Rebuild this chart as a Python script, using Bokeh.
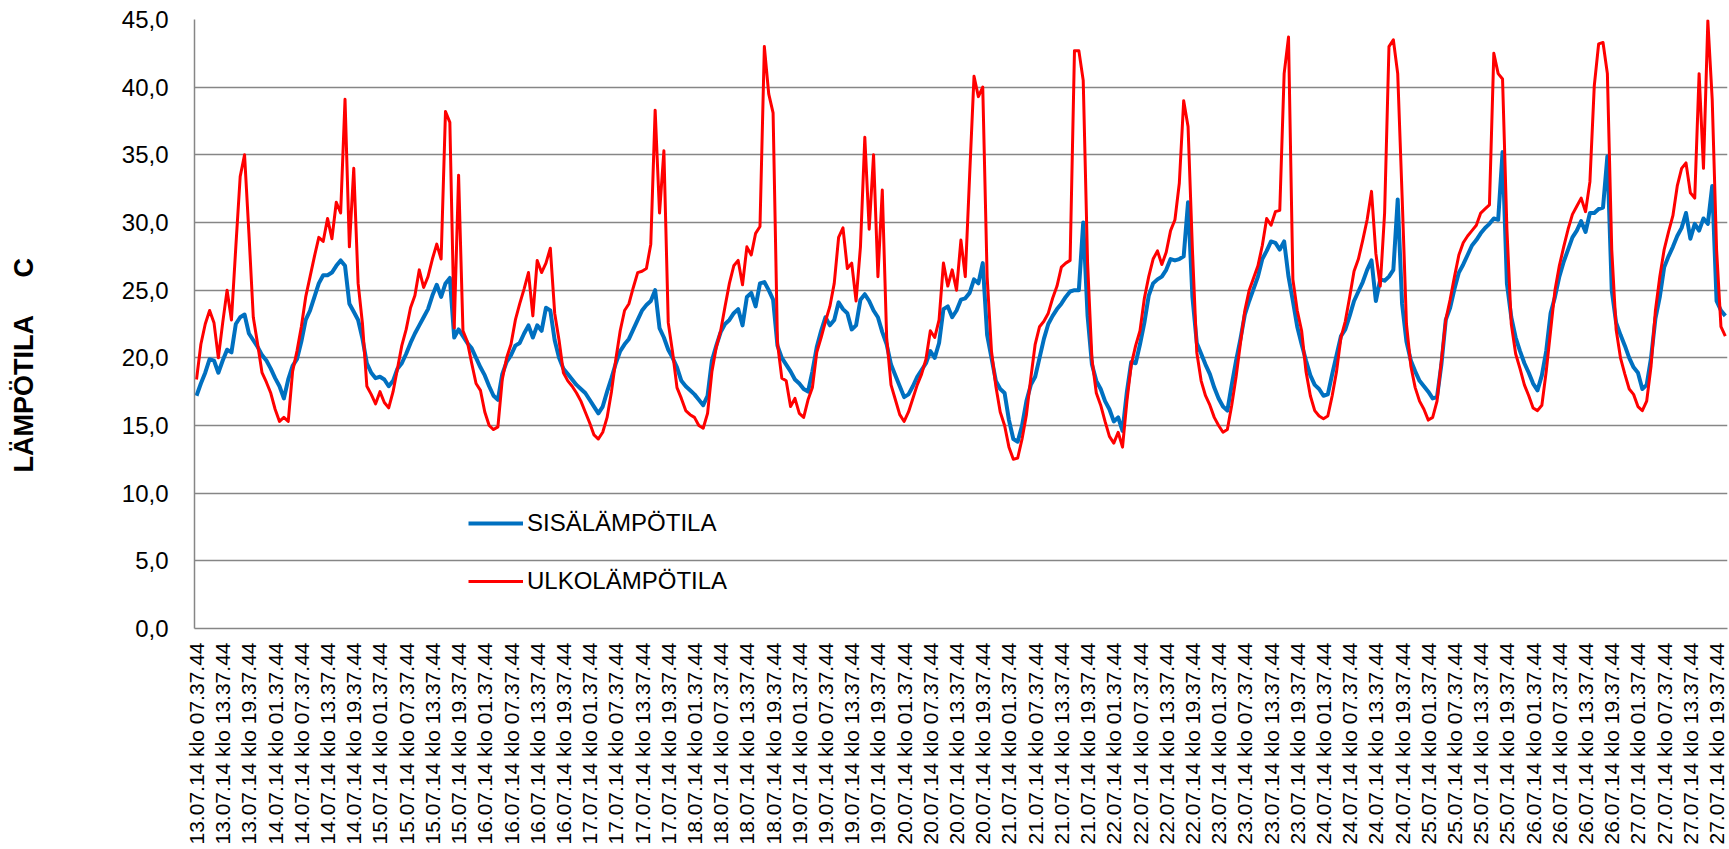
import math
from bokeh.plotting import figure
from bokeh.models import Range1d, FixedTicker, Legend, LegendItem
from bokeh.embed import file_html
from bokeh.resources import INLINE

# hourly readings, hour 0 = 13.07.14 klo 07.37.44
sisa = [
    17.2, 18.1, 18.9, 19.9, 19.8, 18.9, 19.8, 20.6, 20.4, 22.5,
    23.0, 23.2, 21.8, 21.3, 20.8, 20.2, 19.8, 19.2, 18.5, 17.9,
    17.0, 18.4, 19.4, 19.9, 21.2, 22.8, 23.5, 24.5, 25.5, 26.1,
    26.1, 26.3, 26.8, 27.2, 26.8, 24.0, 23.4, 22.8, 21.4, 19.6,
    18.9, 18.5, 18.6, 18.4, 17.9, 18.3, 19.2, 19.6, 20.3, 21.1,
    21.8, 22.4, 23.0, 23.6, 24.6, 25.4, 24.5, 25.5, 25.9, 21.5,
    22.1, 21.6, 21.1, 20.7, 20.0, 19.3, 18.7, 17.9, 17.2, 16.9,
    18.8, 19.7, 20.2, 20.9, 21.1, 21.8, 22.4, 21.5, 22.4, 22.0,
    23.7, 23.5, 21.3, 20.0, 19.2, 18.8, 18.4, 18.0, 17.7, 17.4,
    16.9, 16.4, 15.9, 16.4, 17.5, 18.5, 19.6, 20.5, 21.0, 21.4,
    22.1, 22.8, 23.5, 23.9, 24.2, 25.0, 22.2, 21.5, 20.6, 20.0,
    19.3, 18.3, 17.9, 17.6, 17.3, 16.9, 16.5, 17.2, 19.8, 20.9,
    21.9, 22.5, 22.8, 23.3, 23.6, 22.4, 24.5, 24.8, 23.8, 25.5,
    25.6, 25.0, 24.3, 20.9, 20.0, 19.5, 19.0, 18.4, 18.1, 17.7,
    17.5, 19.0, 20.8, 22.0, 23.0, 22.4, 22.8, 24.1, 23.6, 23.3,
    22.1, 22.4, 24.3, 24.7, 24.2, 23.5, 23.0, 21.9, 21.0, 19.5,
    18.7, 17.9, 17.1, 17.3, 17.9, 18.6, 19.1, 19.6, 20.5, 20.0,
    21.1, 23.6, 23.8, 23.0, 23.5, 24.3, 24.4, 24.8, 25.8, 25.5,
    27.0, 21.7, 20.0, 18.3, 17.7, 17.4, 15.4, 14.0, 13.8, 15.0,
    16.8, 18.0, 18.6, 20.0, 21.4, 22.5, 23.1, 23.6, 24.0, 24.5,
    24.9, 25.0, 25.0, 30.0, 23.1, 19.5, 18.3, 17.7, 16.8, 16.2,
    15.3, 15.6, 14.6, 17.5, 19.7, 19.6, 21.0, 22.6, 24.6, 25.5,
    25.8, 26.0, 26.5, 27.3, 27.2, 27.3, 27.5, 31.5, 24.5, 21.1,
    20.3, 19.5, 18.8, 17.8, 17.0, 16.4, 16.1, 18.0, 19.8, 21.4,
    23.2, 24.2, 25.1, 26.0, 27.3, 27.9, 28.6, 28.5, 28.0, 28.6,
    26.0, 24.2, 22.3, 21.0, 19.8, 18.7, 18.0, 17.7, 17.2, 17.3,
    18.8, 20.2, 21.6, 22.1, 23.1, 24.2, 24.9, 25.6, 26.5, 27.2,
    24.2, 25.8, 25.7, 26.0, 26.5, 31.7, 24.0, 21.2, 19.8, 19.0,
    18.3, 17.9, 17.5, 17.0, 17.1, 19.5, 22.8, 23.7, 25.1, 26.3,
    26.9, 27.6, 28.3, 28.7, 29.2, 29.6, 29.9, 30.3, 30.2, 35.2,
    25.5, 23.0, 21.5, 20.5, 19.6, 18.9, 18.1, 17.6, 18.7, 20.5,
    23.3, 24.5, 26.0, 27.1, 28.0, 28.9, 29.4, 30.1, 29.3, 30.7,
    30.7, 31.0, 31.1, 34.9, 25.0, 22.6, 21.7, 20.9, 20.0, 19.3,
    18.9, 17.7, 18.0, 20.0, 22.9, 24.5, 26.7, 27.5, 28.2, 29.0,
    29.6, 30.7, 28.8, 29.9, 29.4, 30.3, 29.9, 32.7, 24.2, 23.5,
    23.1,
]

ulko = [
    18.4, 21.0, 22.5, 23.5, 22.6, 20.0, 22.6, 25.0, 22.8, 28.2,
    33.4, 35.0, 29.2, 23.0, 21.0, 18.9, 18.2, 17.4, 16.2, 15.3,
    15.6, 15.3, 19.0, 20.5, 22.3, 24.5, 26.0, 27.5, 28.9, 28.6,
    30.3, 28.8, 31.5, 30.7, 39.1, 28.2, 34.0, 25.5, 22.5, 17.9,
    17.3, 16.6, 17.5, 16.7, 16.3, 17.5, 19.2, 20.9, 22.1, 23.7,
    24.6, 26.5, 25.2, 26.0, 27.3, 28.4, 27.3, 38.2, 37.4, 22.2,
    33.5, 22.0, 21.2, 19.6, 18.1, 17.6, 16.0, 15.0, 14.7, 14.9,
    18.4, 20.0, 21.0, 22.8, 24.0, 25.1, 26.3, 23.1, 27.2, 26.3,
    27.0, 28.1, 23.3, 21.3, 18.9, 18.3, 17.9, 17.4, 16.8, 16.0,
    15.2, 14.3, 14.0, 14.5, 15.6, 17.5, 19.9, 22.0, 23.5, 24.0,
    25.2, 26.3, 26.4, 26.6, 28.4, 38.3, 30.7, 35.3, 22.6, 20.4,
    17.8, 17.0, 16.1, 15.8, 15.6, 15.0, 14.8, 15.9, 19.0, 20.8,
    22.0, 23.8, 25.5, 26.8, 27.2, 25.4, 28.2, 27.6, 29.2, 29.7,
    43.0, 39.5, 38.1, 21.1, 18.5, 18.3, 16.4, 17.0, 15.9, 15.6,
    16.9, 17.8, 20.4, 21.5, 22.7, 23.8, 25.5, 28.9, 29.6, 26.6,
    27.0, 24.2, 28.2, 36.3, 29.5, 35.0, 26.0, 32.4, 21.5, 18.0,
    16.9, 15.8, 15.3, 16.0, 17.0, 18.0, 18.8, 19.9, 22.0, 21.5,
    22.8, 27.0, 25.3, 26.5, 25.0, 28.7, 26.0, 33.5, 40.8, 39.3,
    40.0, 26.0, 20.5, 17.9, 16.0, 15.0, 13.4, 12.5, 12.6, 14.0,
    15.8, 18.5, 21.0, 22.3, 22.7, 23.3, 24.4, 25.3, 26.7, 27.0,
    27.2, 42.7, 42.7, 40.5, 27.0, 19.9, 17.4, 16.5, 15.3, 14.2,
    13.7, 14.5, 13.4, 16.8, 19.5, 20.9, 22.0, 24.4, 26.0, 27.3,
    27.9, 26.9, 27.8, 29.4, 30.2, 32.9, 39.0, 37.1, 28.0, 20.4,
    18.3, 17.2, 16.5, 15.6, 15.0, 14.5, 14.7, 16.5, 18.6, 21.1,
    23.5, 25.0, 25.9, 26.8, 28.3, 30.3, 29.8, 30.8, 30.9, 41.0,
    43.7, 25.8, 23.5, 22.0, 19.0, 17.2, 16.1, 15.7, 15.5, 15.7,
    17.2, 19.0, 21.5, 22.7, 24.5, 26.4, 27.3, 28.7, 30.2, 32.3,
    27.7, 25.3, 30.7, 43.0, 43.5, 41.0, 32.0, 22.5, 19.4, 17.8,
    16.8, 16.2, 15.4, 15.6, 16.8, 19.8, 22.8, 24.3, 26.0, 27.6,
    28.5, 29.0, 29.4, 29.8, 30.7, 31.0, 31.3, 42.5, 41.0, 40.6,
    29.5, 22.5, 20.3, 19.2, 18.0, 17.2, 16.3, 16.1, 16.5, 19.0,
    22.0, 25.0, 26.8, 28.2, 29.5, 30.6, 31.2, 31.8, 30.8, 33.0,
    40.1, 43.2, 43.3, 41.0, 28.0, 22.1, 20.0, 18.8, 17.7, 17.3,
    16.4, 16.1, 16.8, 19.4, 23.5, 26.0, 28.0, 29.3, 30.5, 32.7,
    34.0, 34.4, 32.2, 31.8, 41.0, 34.0, 44.9, 39.1, 28.0, 22.3,
    21.6,
]

hours = list(range(len(ulko)))

days = ["13.07.14", "14.07.14", "15.07.14", "16.07.14", "17.07.14",
        "18.07.14", "19.07.14", "20.07.14", "21.07.14", "22.07.14",
        "23.07.14", "24.07.14", "25.07.14", "26.07.14", "27.07.14"]
times = ["01.37.44", "07.37.44", "13.37.44", "19.37.44"]
tick_labels = [f"{d} klo {t}" for d in days for t in times][1:]
tick_hours = [6 * i for i in range(len(tick_labels))]

y_ticks = [0, 5, 10, 15, 20, 25, 30, 35, 40, 45]
y_labels = ["0,0", "5,0", "10,0", "15,0", "20,0", "25,0", "30,0", "35,0", "40,0", "45,0"]

FONT = "Liberation Sans"
GRID = "#868686"
NB = "\u00a0"

p = figure(width=1729, height=849, output_backend="svg", toolbar_location=None,
           x_range=Range1d(-0.46, 350.5), y_range=Range1d(0, 45),
           min_border_left=194, min_border_right=2, min_border_top=19,
           min_border_bottom=221, outline_line_color=None,
           background_fill_color="white", border_fill_color="white")

r1 = p.line(hours, sisa, color="#0070C0", line_width=4, line_join="round")
r2 = p.line(hours, ulko, color="#FF0000", line_width=3, line_join="round")

# x axis
p.xaxis.ticker = FixedTicker(ticks=tick_hours)
p.xaxis.major_label_overrides = {h: lab for h, lab in zip(tick_hours, tick_labels)}
p.xaxis.major_label_orientation = math.pi / 2
p.xaxis.major_tick_out = 0
p.xaxis.major_tick_in = 0
p.xaxis.minor_tick_out = 0
p.xaxis.minor_tick_in = 0
p.xaxis.major_label_standoff = 14
p.xaxis.major_label_text_font = FONT
p.xaxis.major_label_text_font_size = "21px"
p.xaxis.major_label_text_color = "black"
p.xaxis.axis_line_color = GRID
p.xaxis.axis_line_width = 1.5

# y axis
p.yaxis.ticker = FixedTicker(ticks=y_ticks)
p.yaxis.major_label_overrides = {v: lab for v, lab in zip(y_ticks, y_labels)}
p.yaxis.major_tick_out = 0
p.yaxis.major_tick_in = 0
p.yaxis.minor_tick_out = 0
p.yaxis.minor_tick_in = 0
p.yaxis.major_label_standoff = 26
p.yaxis.major_label_text_font = FONT
p.yaxis.major_label_text_font_size = "24px"
p.yaxis.major_label_text_color = "black"
p.yaxis.axis_line_color = GRID
p.yaxis.axis_line_width = 1.5
p.yaxis.axis_label = "LÄMPÖTILA" + NB * 5 + "C" + NB * 11
p.yaxis.axis_label_text_font = FONT
p.yaxis.axis_label_text_font_style = "bold"
p.yaxis.axis_label_text_font_size = "27px"
p.yaxis.axis_label_text_color = "black"
p.yaxis.axis_label_standoff = 80

p.xgrid.visible = False
p.ygrid.grid_line_color = GRID
p.ygrid.grid_line_width = 1.5

legend = Legend(items=[LegendItem(label="SISÄLÄMPÖTILA", renderers=[r1]),
                       LegendItem(label="ULKOLÄMPÖTILA", renderers=[r2])],
                location=(274, 32), background_fill_alpha=0, border_line_color=None,
                label_text_font=FONT, label_text_font_size="24px",
                label_text_color="black", glyph_width=55, glyph_height=30,
                label_height=30, spacing=28, padding=0, margin=0, label_standoff=4)
p.add_layout(legend)

open("out.html", "w").write(file_html(p, INLINE))
